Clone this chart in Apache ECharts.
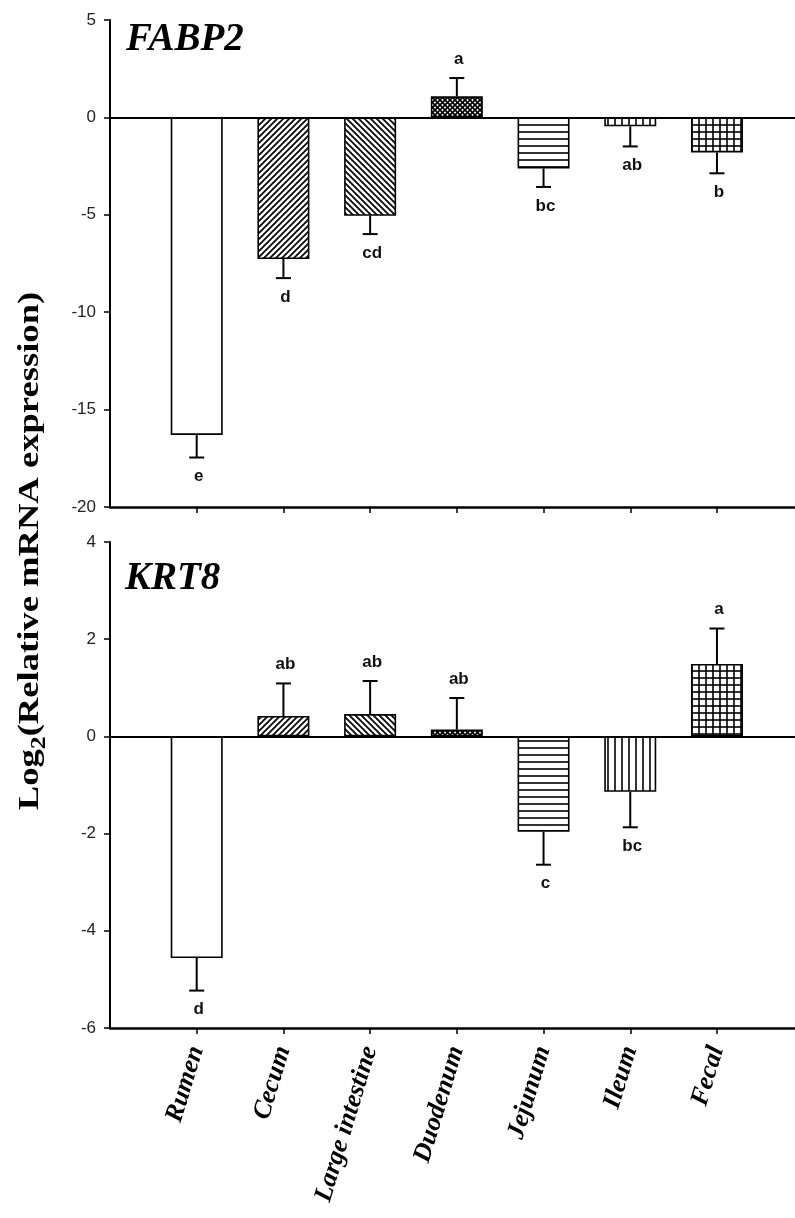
<!DOCTYPE html>
<html>
<head>
<meta charset="utf-8">
<script src="https://cdn.jsdelivr.net/npm/echarts@6/dist/echarts.min.js"></script>
<style>
  html, body { margin: 0; padding: 0; background: #fff; }
  #chart { width: 795px; height: 1218px; }
</style>
</head>
<body>
<div id="chart"></div>
<script>
// Tissues along the x axis
const categories = ['Rumen', 'Cecum', 'Large intestine', 'Duodenum', 'Jejunum', 'Ileum', 'Fecal'];

// FABP2: log2 relative expression, standard error, significance letters
const fabp2Mean = [-16.3, -7.27, -5.05, 1.08, -2.62, -0.46, -1.80];
const fabp2SE = [1.16, 0.98, 0.94, 0.94, 0.95, 1.03, 1.07];
const fabp2Letters = ['e', 'd', 'cd', 'a', 'bc', 'ab', 'b'];

// KRT8: log2 relative expression, standard error, significance letters
const krt8Mean = [-4.56, 0.42, 0.46, 0.14, -1.96, -1.14, 1.49];
const krt8SE = [0.67, 0.67, 0.68, 0.65, 0.68, 0.73, 0.73];
const krt8Letters = ['d', 'ab', 'ab', 'ab', 'c', 'bc', 'a'];

// Fill pattern for each tissue's bar
const patternKinds = ['none', 'slash', 'backslash', 'cross', 'hlines', 'vlines', 'grid'];

function makePattern(kind) {
  if (kind === 'none') return '#ffffff';
  const size = { slash: 6, backslash: 6, cross: 5, hlines: 7, vlines: 7, grid: 7 }[kind];
  const c = document.createElement('canvas');
  c.width = size; c.height = size;
  const g = c.getContext('2d');
  g.fillStyle = '#fff';
  g.fillRect(0, 0, size, size);
  g.strokeStyle = '#000';
  g.lineCap = 'square';
  const line = (x0, y0, x1, y1, w) => {
    g.lineWidth = w; g.beginPath(); g.moveTo(x0, y0); g.lineTo(x1, y1); g.stroke();
  };
  if (kind === 'slash') {
    line(-1, size + 1, size + 1, -1, 1.7);
    line(-1, 1, 1, -1, 1.7);
    line(size - 1, size + 1, size + 1, size - 1, 1.7);
  } else if (kind === 'backslash') {
    line(-1, -1, size + 1, size + 1, 1.7);
    line(size - 1, -1, size + 1, 1, 1.7);
    line(-1, size - 1, 1, size + 1, 1.7);
  } else if (kind === 'cross') {
    line(-1, size + 1, size + 1, -1, 1.7);
    line(-1, -1, size + 1, size + 1, 1.7);
  } else if (kind === 'hlines') {
    line(0, size - 1, size, size - 1, 1.6);
  } else if (kind === 'vlines') {
    line(size - 1, 0, size - 1, size, 1.6);
  } else if (kind === 'grid') {
    line(0, size - 1, size, size - 1, 1.6);
    line(size - 1, 0, size - 1, size, 1.6);
  }
  return { image: c, repeat: 'repeat' };
}

const fills = patternKinds.map(makePattern);
const tickPositions = categories.map((_, i) => i + 1);

const SERIF = '"Liberation Serif", "Times New Roman", serif';
const SANS = '"Liberation Sans", Arial, sans-serif';

function barSeries(means, axisIndex) {
  return {
    type: 'bar',
    xAxisIndex: axisIndex,
    yAxisIndex: axisIndex,
    barWidth: 52,
    data: means.map((v, i) => ({
      value: [i + 1, v],
      itemStyle: { color: fills[i], borderColor: '#000', borderWidth: 1.6 }
    })),
    markLine: {
      silent: true,
      symbol: ['none', 'none'],
      label: { show: false },
      lineStyle: { color: '#000', width: 2, type: 'solid' },
      data: [{ yAxis: 0 }]
    },
    z: 2
  };
}

function errorSeries(means, ses, letters, axisIndex) {
  return {
    type: 'custom',
    xAxisIndex: axisIndex,
    yAxisIndex: axisIndex,
    data: means.map((v, i) => [i + 1, v, ses[i]]),
    encode: { x: 0, y: 1 },
    z: 5,
    renderItem: function (params, api) {
      const x = api.value(0), m = api.value(1), se = api.value(2);
      const dir = m >= 0 ? 1 : -1;
      const p0 = api.coord([x, m]);
      const p1 = api.coord([x, m + dir * se]);
      const stroke = { stroke: '#000', lineWidth: 2 };
      return {
        type: 'group',
        children: [
          { type: 'line', shape: { x1: p0[0], y1: p0[1], x2: p1[0], y2: p1[1] }, style: stroke },
          { type: 'line', shape: { x1: p1[0] - 7.5, y1: p1[1], x2: p1[0] + 7.5, y2: p1[1] }, style: stroke },
          {
            type: 'text',
            x: p1[0] + 2, y: p1[1] - dir * 19,
            style: {
              text: letters[params.dataIndex],
              fill: '#111',
              font: 'bold 17px ' + SANS,
              align: 'center',
              verticalAlign: 'middle'
            }
          }
        ]
      };
    }
  };
}

function xAxis(gridIndex, showLabels) {
  return {
    type: 'value',
    gridIndex: gridIndex,
    min: 0,
    max: 7.9,
    interval: 1,
    splitLine: { show: false },
    axisLine: { show: true, onZero: false, lineStyle: { color: '#000', width: 2.5 } },
    axisTick: { show: true, inside: false, length: 6, customValues: tickPositions, lineStyle: { color: '#000', width: 1.5 } },
    axisLabel: {
      show: showLabels,
      customValues: tickPositions,
      formatter: v => categories[Math.round(v) - 1] || '',
      rotate: 73,
      margin: 19,
      fontFamily: SERIF,
      fontWeight: 'bold',
      fontStyle: 'italic',
      fontSize: 26,
      color: '#000'
    }
  };
}

function yAxis(gridIndex, min, max, interval) {
  return {
    type: 'value',
    gridIndex: gridIndex,
    min: min, max: max, interval: interval,
    splitLine: { show: false },
    axisLine: { show: true, lineStyle: { color: '#000', width: 2 } },
    axisTick: { show: true, inside: false, length: 6, lineStyle: { color: '#000', width: 1.5 } },
    axisLabel: { fontFamily: SANS, fontSize: 17, color: '#222', margin: 14 }
  };
}

const chart = echarts.init(document.getElementById('chart'), null, { renderer: 'canvas' });

chart.setOption({
  animation: false,
  backgroundColor: '#fff',
  grid: [
    { left: 110, top: 20, width: 685, height: 487 },
    { left: 110, top: 542, width: 685, height: 486 }
  ],
  xAxis: [xAxis(0, false), xAxis(1, true)],
  yAxis: [yAxis(0, -20, 5, 5), yAxis(1, -6, 4, 2)],
  series: [
    barSeries(fabp2Mean, 0),
    errorSeries(fabp2Mean, fabp2SE, fabp2Letters, 0),
    barSeries(krt8Mean, 1),
    errorSeries(krt8Mean, krt8SE, krt8Letters, 1)
  ],
  graphic: [
    {
      type: 'text', x: 126, y: 40,
      style: { text: 'FABP2', font: 'italic bold 39px ' + SERIF, fill: '#000', align: 'left', verticalAlign: 'middle' }
    },
    {
      type: 'text', x: 125, y: 579,
      style: { text: 'KRT8', font: 'italic bold 39px ' + SERIF, fill: '#000', align: 'left', verticalAlign: 'middle' }
    },
    {
      type: 'text', x: 30, y: 551, rotation: Math.PI / 2, scaleX: 1.22,
      style: {
        text: '{a|Log}{b|2}{a|(Relative mRNA expression)}',
        align: 'center',
        verticalAlign: 'middle',
        fill: '#000',
        rich: {
          a: { fontFamily: SERIF, fontWeight: 'bold', fontSize: 30, lineHeight: 40 },
          b: { fontFamily: SERIF, fontWeight: 'bold', fontSize: 21, lineHeight: 22, verticalAlign: 'bottom' }
        }
      }
    }
  ]
});
</script>
</body>
</html>
